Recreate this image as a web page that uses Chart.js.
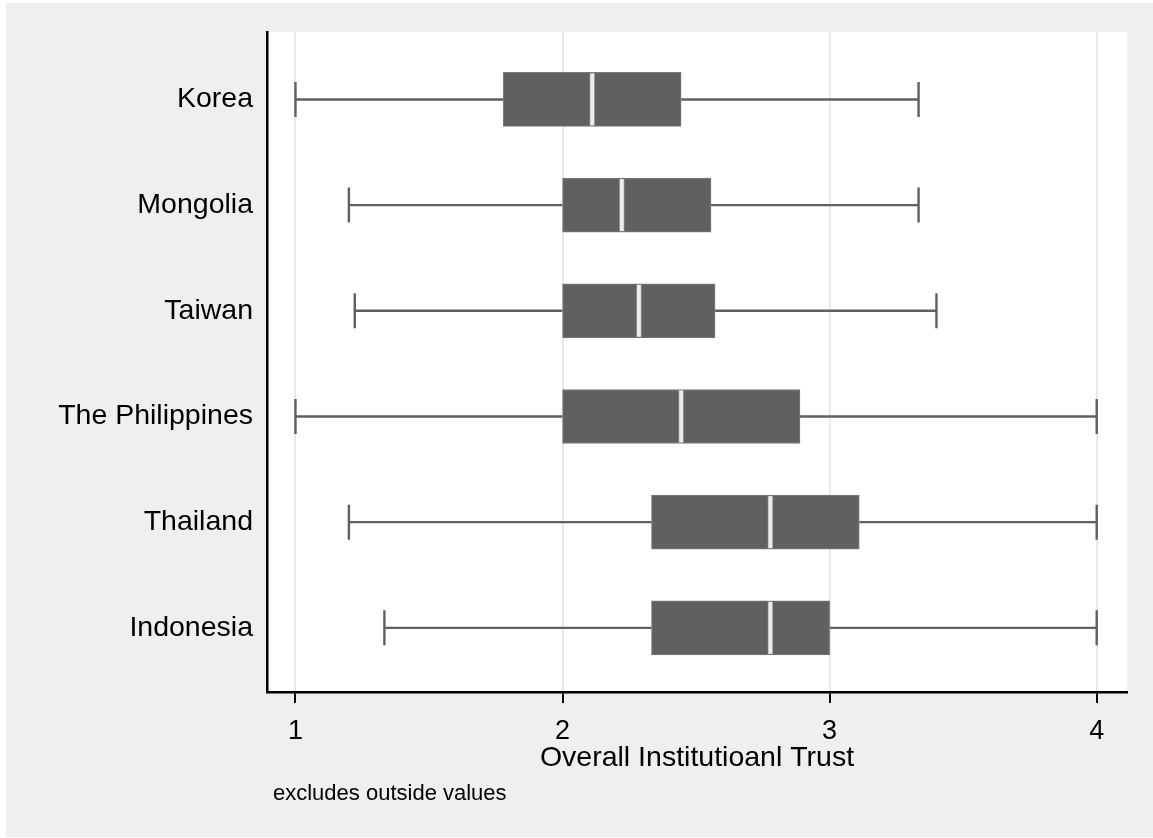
<!DOCTYPE html>
<html>
<head>
<meta charset="utf-8">
<title>Overall Institutional Trust by country</title>
<script src="https://cdn.jsdelivr.net/npm/chart.js@4/dist/chart.umd.min.js"></script>
<style>
  html, body { margin: 0; padding: 0; background: #ffffff; }
  #wrap { width: 1153px; height: 838px; }
</style>
</head>
<body>
<div id="wrap"><canvas id="c" width="1153" height="838"></canvas></div>
<script>
// Countries, top to bottom
const countries = ['Korea', 'Mongolia', 'Taiwan', 'The Philippines', 'Thailand', 'Indonesia'];

// Five-number summaries (outside values excluded)
const whiskerLow  = [1.000, 1.200, 1.222, 1.000, 1.200, 1.333];
const quartile1   = [1.778, 2.000, 2.000, 2.000, 2.333, 2.333];
const medians     = [2.111, 2.222, 2.286, 2.444, 2.778, 2.778];
const quartile3   = [2.444, 2.556, 2.571, 2.889, 3.111, 3.000];
const whiskerHigh = [3.333, 3.333, 3.400, 4.000, 4.000, 4.000];

// Axis ticks
const trustTicks = [1, 2, 3, 4];

const FONT = '"Liberation Sans", Arial, Helvetica, sans-serif';
const BOX = '#606060';

// Page background, gray graph region and white plot region
const backdrop = {
  id: 'backdrop',
  beforeDraw(chart) {
    const { ctx, chartArea: a } = chart;
    ctx.save();
    ctx.fillStyle = '#ffffff';
    ctx.fillRect(0, 0, chart.width, chart.height);
    ctx.fillStyle = '#efefef';
    ctx.fillRect(6, 3, chart.width - 6, chart.height - 4);
    ctx.fillStyle = '#ffffff';
    ctx.fillRect(a.left, a.top, a.right - a.left, a.bottom - a.top);
    ctx.restore();
  }
};

// Whiskers, caps and median lines placed through the chart scales
const boxParts = {
  id: 'boxParts',
  beforeDatasetsDraw(chart) {
    const { ctx, scales: { x, y } } = chart;
    ctx.save();
    ctx.strokeStyle = BOX;
    ctx.lineWidth = 2.4;
    countries.forEach((c, i) => {
      const py = y.getPixelForValue(i);
      const lo = x.getPixelForValue(whiskerLow[i]);
      const q1 = x.getPixelForValue(quartile1[i]);
      const q3 = x.getPixelForValue(quartile3[i]);
      const hi = x.getPixelForValue(whiskerHigh[i]);
      ctx.beginPath();
      ctx.moveTo(lo, py); ctx.lineTo(q1, py);
      ctx.moveTo(q3, py); ctx.lineTo(hi, py);
      ctx.moveTo(lo, py - 17.5); ctx.lineTo(lo, py + 17.5);
      ctx.moveTo(hi, py - 17.5); ctx.lineTo(hi, py + 17.5);
      ctx.stroke();
    });
    ctx.restore();
  },
  afterDatasetsDraw(chart) {
    const { ctx, scales: { x, y } } = chart;
    const meta = chart.getDatasetMeta(0);
    ctx.save();
    countries.forEach((c, i) => {
      const bar = meta.data[i];
      const half = bar.height / 2;
      const px = x.getPixelForValue(medians[i]);
      const py = y.getPixelForValue(i);
      ctx.fillStyle = '#9a9a9a';
      ctx.fillRect(px - 2.6, py - half + 1, 5.2, 2 * half - 2);
      ctx.fillStyle = '#ededed';
      ctx.fillRect(px - 1.9, py - half + 1, 3.8, 2 * half - 2);
    });
    ctx.restore();
  },
  afterDraw(chart) {
    const { ctx } = chart;
    ctx.save();
    ctx.fillStyle = '#000000';
    ctx.font = '22px ' + FONT;
    ctx.textAlign = 'left';
    ctx.textBaseline = 'alphabetic';
    ctx.fillText('excludes outside values', 273, 800);
    ctx.restore();
  }
};

new Chart(document.getElementById('c'), {
  type: 'bar',
  data: {
    datasets: [{
      data: countries.map((c, i) => ({ x: [quartile1[i], quartile3[i]], y: i })),
      backgroundColor: BOX,
      borderColor: '#7c7c7c',
      borderWidth: 1,
      borderSkipped: false,
      barThickness: 54,
      grouped: false
    }]
  },
  options: {
    indexAxis: 'y',
    responsive: false,
    animation: false,
    events: [],
    layout: { padding: { left: 0, top: 32, right: 26, bottom: 0 } },
    plugins: { legend: { display: false }, tooltip: { enabled: false } },
    scales: {
      x: {
        type: 'linear',
        position: 'bottom',
        bounds: 'data',
        offset: false,
        min: 0.8934,
        max: 4.1134,
        afterBuildTicks: s => { s.ticks = trustTicks.map(v => ({ value: v })); },
        afterFit: s => { s.height = 146; },
        grid: {
          color: '#e8e8e8',
          lineWidth: 2,
          drawTicks: true,
          tickLength: 11,
          tickColor: '#000000',
          tickWidth: 2
        },
        border: { display: true, color: '#000000', width: 2.5 },
        ticks: {
          color: '#000000',
          font: { family: FONT, size: 27 },
          padding: 12,
          maxRotation: 0
        },
        title: {
          display: true,
          text: 'Overall Institutioanl Trust',
          color: '#000000',
          font: { family: FONT, size: 28.5 },
          padding: { top: 0, bottom: 63 }
        }
      },
      y: {
        type: 'linear',
        position: 'left',
        reverse: true,
        bounds: 'data',
        offset: false,
        min: -0.638,
        max: 5.607,
        afterBuildTicks: s => { s.ticks = countries.map((c, i) => ({ value: i })); },
        afterFit: s => { s.width = 267; },
        grid: { display: true, drawOnChartArea: false, drawTicks: false },
        border: { display: true, color: '#000000', width: 2.5 },
        ticks: {
          color: '#000000',
          font: { family: FONT, size: 28.5 },
          padding: 14,
          autoSkip: false,
          callback: v => countries[v]
        }
      }
    }
  },
  plugins: [backdrop, boxParts]
});
</script>
</body>
</html>
